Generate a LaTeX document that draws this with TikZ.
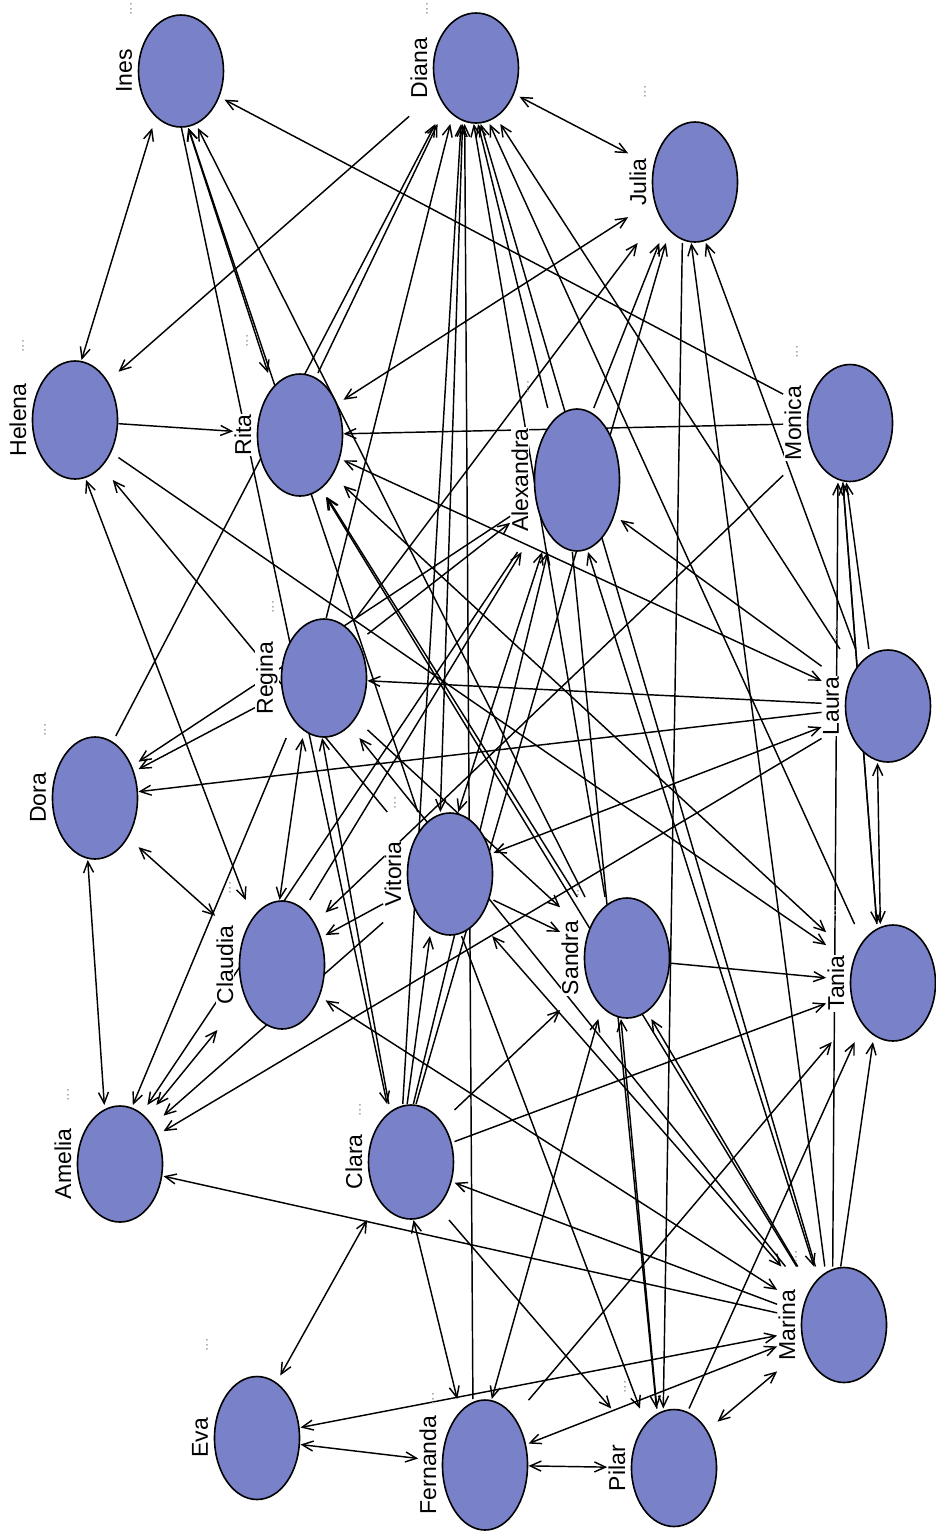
\documentclass[tikz,border=0pt]{standalone}
\usepackage{fontspec}
\setmainfont{Liberation Sans}
\usetikzlibrary{shapes.geometric,arrows.meta,fit}
\pgfdeclarelayer{background}
\pgfsetlayers{background,main}
\definecolor{nodeblue}{RGB}{121,130,201}

\begin{document}
\begin{tikzpicture}[x=1pt,y=-1pt,
    >={Straight Barb[length=11pt,width=10pt]},
    actor/.style={ellipse,draw=black,line width=1.6pt,fill=nodeblue,minimum width=85pt,minimum height=118pt,inner sep=0pt},
    actorlabel/.style={rotate=90,fill=white,inner sep=1pt,font=\fontsize{23}{27}\selectfont},
    actordots/.style={rotate=90,text=black!35,inner sep=0pt,font=\fontsize{16}{18}\selectfont},
    actorbox/.style={inner sep=0pt},
    tie/.style={->,line width=1.45pt},
    mutual/.style={<->,line width=1.45pt}]
  \useasboundingbox (0,0) rectangle (936,1535);

  % people
  \node[actor,minimum height=112pt] (ines) at (181,71) {};
  \node[actorlabel] (ines-l) at (124,71) {Ines};
  \node[actordots] (ines-d) at (131,9) {...};
  \node[actorbox,fit=(ines)(ines-l)] (Ines) {};

  \node[actor,minimum height=110pt] (diana) at (476,68) {};
  \node[actorlabel] (diana-l) at (419,68) {Diana};
  \node[actordots] (diana-d) at (427,9) {...};
  \node[actorbox,fit=(diana)(diana-l)] (Diana) {};

  \node[actor,minimum height=120pt] (julia) at (695,182) {};
  \node[actorlabel] (julia-l) at (638,182) {Julia};
  \node[actordots] (julia-d) at (645,92) {...};
  \node[actorbox,fit=(julia)(julia-l)] (Julia) {};

  \node[actor] (helena) at (75,420) {};
  \node[actorlabel] (helena-l) at (18,420) {Helena};
  \node[actordots] (helena-d) at (23,346) {...};
  \node[actorbox,fit=(helena)(helena-l)] (Helena) {};

  \node[actor,minimum height=122pt] (rita) at (300,435) {};
  \node[actorlabel] (rita-l) at (243,435) {Rita};
  \node[actordots] (rita-d) at (247,341) {...};
  \node[actorbox,fit=(rita)(rita-l)] (Rita) {};

  \node[actor,minimum height=142pt] (alexandra) at (577,480) {};
  \node[actorlabel] (alexandra-l) at (520,480) {Alexandra};
  \node[actordots] (alexandra-d) at (528,387) {...};
  \node[actorbox,fit=(alexandra)(alexandra-l)] (Alexandra) {};

  \node[actor,minimum height=117pt] (monica) at (850,423) {};
  \node[actorlabel] (monica-l) at (793,423) {Monica};
  \node[actordots] (monica-d) at (797,352) {...};
  \node[actorbox,fit=(monica)(monica-l)] (Monica) {};

  \node[actor] (regina) at (324,678) {};
  \node[actorlabel] (regina-l) at (267,678) {Regina};
  \node[actordots] (regina-d) at (273,607) {...};
  \node[actorbox,fit=(regina)(regina-l)] (Regina) {};

  \node[actor,minimum height=112pt] (laura) at (888,706) {};
  \node[actorlabel] (laura-l) at (831,706) {Laura};
  \node[actordots] (laura-d) at (836,635) {...};
  \node[actorbox,fit=(laura)(laura-l)] (Laura) {};

  \node[actor,minimum height=122pt] (dora) at (95,798) {};
  \node[actorlabel] (dora-l) at (38,798) {Dora};
  \node[actordots] (dora-d) at (45,730) {...};
  \node[actorbox,fit=(dora)(dora-l)] (Dora) {};

  \node[actor,minimum height=122pt] (vitoria) at (450,874) {};
  \node[actorlabel] (vitoria-l) at (393,874) {Vitoria};
  \node[actordots] (vitoria-d) at (395,803) {...};
  \node[actorbox,fit=(vitoria)(vitoria-l)] (Vitoria) {};

  \node[actor,minimum height=128pt] (claudia) at (282,965) {};
  \node[actorlabel] (claudia-l) at (225,965) {Claudia};
  \node[actordots] (claudia-d) at (230,888) {...};
  \node[actorbox,fit=(claudia)(claudia-l)] (Claudia) {};

  \node[actor,minimum height=120pt] (sandra) at (627,958) {};
  \node[actorlabel] (sandra-l) at (570,958) {Sandra};
  \node[actordots] (sandra-d) at (578,891) {...};
  \node[actorbox,fit=(sandra)(sandra-l)] (Sandra) {};

  \node[actor,minimum height=116pt] (tania) at (893,983) {};
  \node[actorlabel] (tania-l) at (836,983) {Tania};
  \node[actordots] (tania-d) at (835,911) {...};
  \node[actorbox,fit=(tania)(tania-l)] (Tania) {};

  \node[actor,minimum height=116pt] (amelia) at (120,1164) {};
  \node[actorlabel] (amelia-l) at (63,1164) {Amelia};
  \node[actordots] (amelia-d) at (68,1095) {...};
  \node[actorbox,fit=(amelia)(amelia-l)] (Amelia) {};

  \node[actor,minimum height=114pt] (clara) at (411,1162) {};
  \node[actorlabel] (clara-l) at (354,1162) {Clara};
  \node[actordots] (clara-d) at (360,1110) {...};
  \node[actorbox,fit=(clara)(clara-l)] (Clara) {};

  \node[actor,minimum height=123pt] (eva) at (257,1438) {};
  \node[actorlabel] (eva-l) at (200,1438) {Eva};
  \node[actordots] (eva-d) at (207,1345) {...};
  \node[actorbox,fit=(eva)(eva-l)] (Eva) {};

  \node[actor,minimum height=130pt] (fernanda) at (485,1465) {};
  \node[actorlabel] (fernanda-l) at (428,1465) {Fernanda};
  \node[actordots] (fernanda-d) at (433,1399) {...};
  \node[actorbox,fit=(fernanda)(fernanda-l)] (Fernanda) {};

  \node[actor,minimum height=117pt] (pilar) at (674,1468) {};
  \node[actorlabel] (pilar-l) at (617,1468) {Pilar};
  \node[actordots] (pilar-d) at (625,1387) {...};
  \node[actorbox,fit=(pilar)(pilar-l)] (Pilar) {};

  \node[actor,minimum height=115pt] (marina) at (844,1325) {};
  \node[actorlabel] (marina-l) at (787,1325) {Marina};
  \node[actordots] (marina-d) at (796,1257) {...};
  \node[actorbox,fit=(marina)(marina-l)] (Marina) {};

  % ties
  \begin{pgfonlayer}{background}
    \draw[mutual] (Ines) -- (Helena);
    \draw[tie] (Monica) -- (Ines);
    \draw[tie] (Diana) -- (Helena);
    \draw[tie] (Helena) -- (Rita);
    \draw[tie] (Ines) -- (Clara);
    \draw[mutual] (Ines) -- (Rita);
    \draw[tie] (Vitoria) -- (Ines);
    \draw[tie] (Sandra) -- (Ines);
    \draw[mutual] (Diana) -- (Julia);
    \draw[mutual] (Rita) -- (Julia);
    \draw[tie] (Regina) -- (Julia);
    \draw[tie] (Alexandra) -- (Julia);
    \draw[tie] (Clara) -- (Julia);
    \draw[tie] (Julia) -- (Pilar);
    \draw[tie] (Marina) -- (Julia);
    \draw[tie] (Laura) -- (Julia);
    \draw[tie] (Rita) -- (Diana);
    \draw[tie] (Dora) -- (Diana);
    \draw[tie] (Regina) -- (Diana);
    \draw[mutual] (Vitoria) -- (Diana);
    \draw[tie] (Clara) -- (Diana);
    \draw[tie] (Fernanda) -- (Diana);
    \draw[tie] (Alexandra) -- (Diana);
    \draw[tie] (Marina) -- (Diana);
    \draw[tie] (Sandra) -- (Diana);
    \draw[tie] (Tania) -- (Diana);
    \draw[tie] (Laura) -- (Diana);
    \draw[tie] (Helena) -- (Tania);
    \draw[mutual] (Helena) -- (Claudia);
    \draw[tie] (Vitoria) -- (Helena);
    \draw[tie] (Monica) -- (Rita);
    \draw[tie] (Sandra) -- (Rita);
    \draw[tie] (Marina) -- (Rita);
    \draw[mutual] (Rita) -- (Laura);
    \draw[mutual] (Rita) -- (Tania);
    \draw[tie] (Laura) -- (Alexandra);
    \draw[tie] (Laura) -- (Regina);
    \draw[tie] (Regina) -- (Dora);
    \draw[tie] (Alexandra) -- (Dora);
    \draw[tie] (Laura) -- (Dora);
    \draw[mutual] (Regina) -- (Claudia);
    \draw[tie] (Regina) -- (Amelia);
    \draw[mutual] (Dora) -- (Amelia);
    \draw[mutual] (Dora) -- (Claudia);
    \draw[tie] (Marina) -- (Amelia);
    \draw[tie] (Alexandra) -- (Amelia);
    \draw[mutual] (Claudia) -- (Amelia);
    \draw[tie] (Vitoria) -- (Amelia);
    \draw[tie] (Laura) -- (Amelia);
    \draw[tie] (Vitoria) -- (Claudia);
    \draw[tie] (Claudia) -- (Alexandra);
    \draw[mutual] (Claudia) -- (Marina);
    \draw[mutual] (Vitoria) -- (Laura);
    \draw[tie] (Vitoria) -- (Sandra);
    \draw[mutual] (Vitoria) -- (Marina);
    \draw[mutual] (Clara) -- (Eva);
    \draw[mutual] (Clara) -- (Fernanda);
    \draw[tie] (Marina) -- (Clara);
    \draw[tie] (Clara) -- (Sandra);
    \draw[tie] (Clara) -- (Tania);
    \draw[tie] (Clara) -- (Regina);
    \draw[mutual] (Marina) -- (Eva);
    \draw[mutual] (Eva) -- (Fernanda);
    \draw[mutual] (Fernanda) -- (Pilar);
    \draw[mutual] (Fernanda) -- (Marina);
    \draw[mutual] (Sandra) -- (Fernanda);
    \draw[tie] (Fernanda) -- (Tania);
    \draw[tie] (Vitoria) -- (Pilar);
    \draw[tie] (Alexandra) -- (Pilar);
    \draw[tie] (Clara) -- (Pilar);
    \draw[mutual] (Pilar) -- (Marina);
    \draw[tie] (Pilar) -- (Tania);
    \draw[tie] (Marina) -- (Tania);
    \draw[tie] (Sandra) -- (Tania);
    \draw[mutual] (Laura) -- (Tania);
    \draw[tie] (Monica) -- (Tania);
    \draw[tie] (Laura) -- (Monica);
    \draw[tie] (Tania) -- (Monica);
    \draw[tie] (Marina) -- (Monica);
    \draw[tie] (Monica) -- (Claudia);
    \draw[mutual] (Alexandra) -- (Vitoria);
    \draw[tie] (Regina) -- (Alexandra);
    \draw[tie] (Clara) -- (Alexandra);
    \draw[mutual] (Alexandra) -- (Marina);
    \draw[tie] (Pilar) -- (Sandra);
    \draw[tie] (Marina) -- (Sandra);
    \draw[tie] (Regina) -- (Sandra);
    \draw[tie] (Marina) -- (Regina);
    \draw[tie] (Clara) -- (Vitoria);
  \end{pgfonlayer}
\end{tikzpicture}
\end{document}
